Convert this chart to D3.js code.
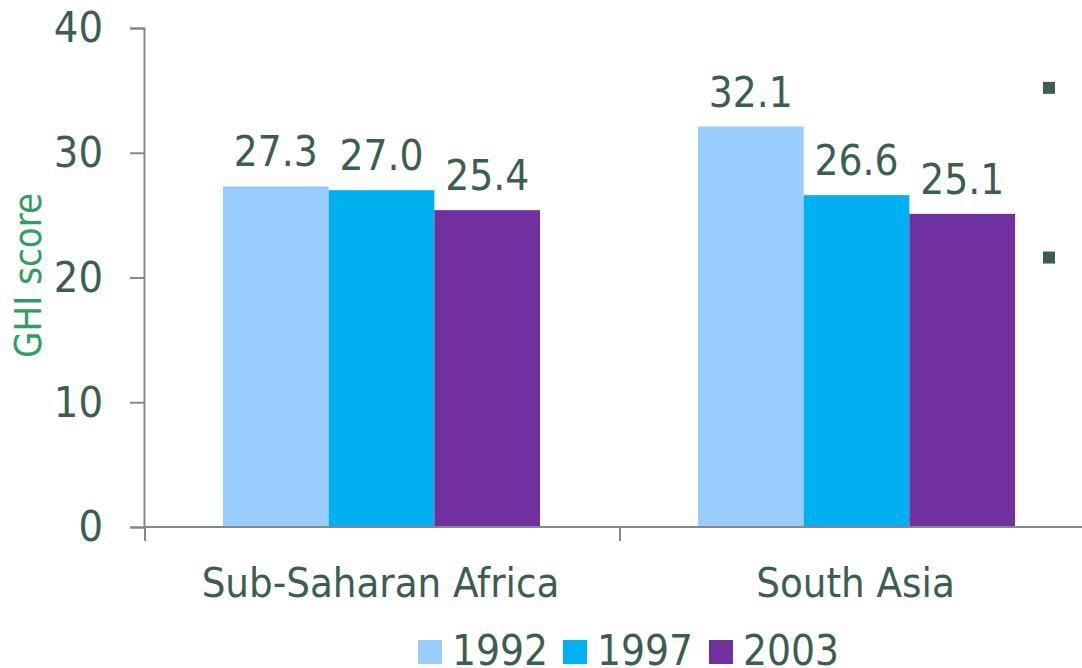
<!DOCTYPE html>
<html>
<head>
<meta charset="utf-8">
<script src="https://cdn.jsdelivr.net/npm/d3@7"></script>
<style>
  body { margin: 0; background: #fff; }
  text { font-family: "DejaVu Sans Condensed", "DejaVu Sans", sans-serif; }
</style>
</head>
<body>
<svg id="chart" width="1082" height="668"></svg>
<script>
// data
const regions = ['Sub-Saharan Africa', 'South Asia'];
const years = ['1992', '1997', '2003'];
const v1992 = [27.3, 32.1];
const v1997 = [27.0, 26.6];
const v2003 = [25.4, 25.1];
const yTicks = [0, 10, 20, 30, 40];
const markValues = [35.2, 21.6]; // stray legend marks at right

const colors = ['#99ccff', '#00b0f0', '#7030a0'];
const textColor = '#3b5e50';
const axisColor = '#878787';

const rows = regions.map((r, i) => ({
  region: r,
  values: [v1992[i], v1997[i], v2003[i]].map((v, j) => ({ year: years[j], value: v }))
}));

const svg = d3.select('#chart');

// scales
const x0 = d3.scaleBand()
    .domain(regions)
    .range([145, 1095])
    .paddingInner(0)
    .paddingOuter(0);

const x1 = d3.scaleBand()
    .domain(years)
    .range([-1, x0.bandwidth() - 1])
    .paddingInner(0)
    .paddingOuter(0.747);

const y = d3.scaleLinear()
    .domain([0, 40])
    .range([527, 28]);

const color = d3.scaleOrdinal().domain(years).range(colors);

// bars
const groups = svg.append('g')
  .selectAll('g')
  .data(rows)
  .join('g')
    .attr('transform', d => `translate(${x0(d.region)},0)`);

groups.selectAll('rect')
  .data(d => d.values)
  .join('rect')
    .attr('x', d => x1(d.year))
    .attr('y', d => y(d.value))
    .attr('width', x1.bandwidth())
    .attr('height', d => y(0) - y(d.value))
    .attr('fill', d => color(d.year));

groups.selectAll('text')
  .data(d => d.values)
  .join('text')
    .attr('x', d => x1(d.year) + x1.bandwidth() / 2)
    .attr('y', d => y(d.value) - 20)
    .attr('text-anchor', 'middle')
    .attr('font-size', 42)
    .attr('fill', textColor)
    .text(d => d.value.toFixed(1));

// y axis
const yAxis = d3.axisLeft(y)
    .tickValues(yTicks)
    .tickSize(14)
    .tickPadding(27);

svg.append('g')
    .attr('transform', 'translate(144,0)')
    .call(yAxis)
    .call(g => g.select('.domain').attr('stroke', axisColor).attr('stroke-width', 2))
    .call(g => g.selectAll('.tick line').attr('stroke', axisColor).attr('stroke-width', 2))
    .call(g => g.selectAll('.tick text')
        .attr('fill', textColor)
        .attr('font-size', 43)
        .attr('font-family', '"DejaVu Sans Condensed", "DejaVu Sans", sans-serif'));

// x axis
svg.append('line')
    .attr('x1', 144)
    .attr('x2', 1082)
    .attr('y1', y(0))
    .attr('y2', y(0))
    .attr('stroke', axisColor)
    .attr('stroke-width', 2);

svg.append('g')
  .selectAll('line')
  .data(regions.map(r => x0(r)).concat([x0.range()[1]]))
  .join('line')
    .attr('x1', d => d)
    .attr('x2', d => d)
    .attr('y1', y(0))
    .attr('y2', y(0) + 14)
    .attr('stroke', axisColor)
    .attr('stroke-width', 2);

svg.append('g')
  .selectAll('text')
  .data(regions)
  .join('text')
    .attr('x', d => x0(d) + x0.bandwidth() / 2 - 2)
    .attr('y', 597)
    .attr('text-anchor', 'middle')
    .attr('font-size', 41.5)
    .attr('fill', textColor)
    .text(d => d);

// y axis title
svg.append('text')
    .attr('transform', `translate(41, ${y(20) - 2}) rotate(-90)`)
    .attr('text-anchor', 'middle')
    .attr('font-size', 38)
    .attr('fill', '#2f9e63')
    .text('GHI score');

// legend
const legendX = [418, 563, 709];
const legend = svg.append('g')
  .selectAll('g')
  .data(years)
  .join('g')
    .attr('transform', (d, i) => `translate(${legendX[i]}, 640)`);

legend.append('rect')
    .attr('width', 24)
    .attr('height', 24)
    .attr('fill', d => color(d));

legend.append('text')
    .attr('x', 34)
    .attr('y', 25)
    .attr('font-size', 42)
    .attr('fill', textColor)
    .text(d => d);

// stray marks at right edge
svg.append('g')
  .selectAll('rect')
  .data(markValues)
  .join('rect')
    .attr('x', 1043)
    .attr('y', d => y(d) - 6)
    .attr('width', 12)
    .attr('height', 12)
    .attr('fill', textColor);
</script>
</body>
</html>
